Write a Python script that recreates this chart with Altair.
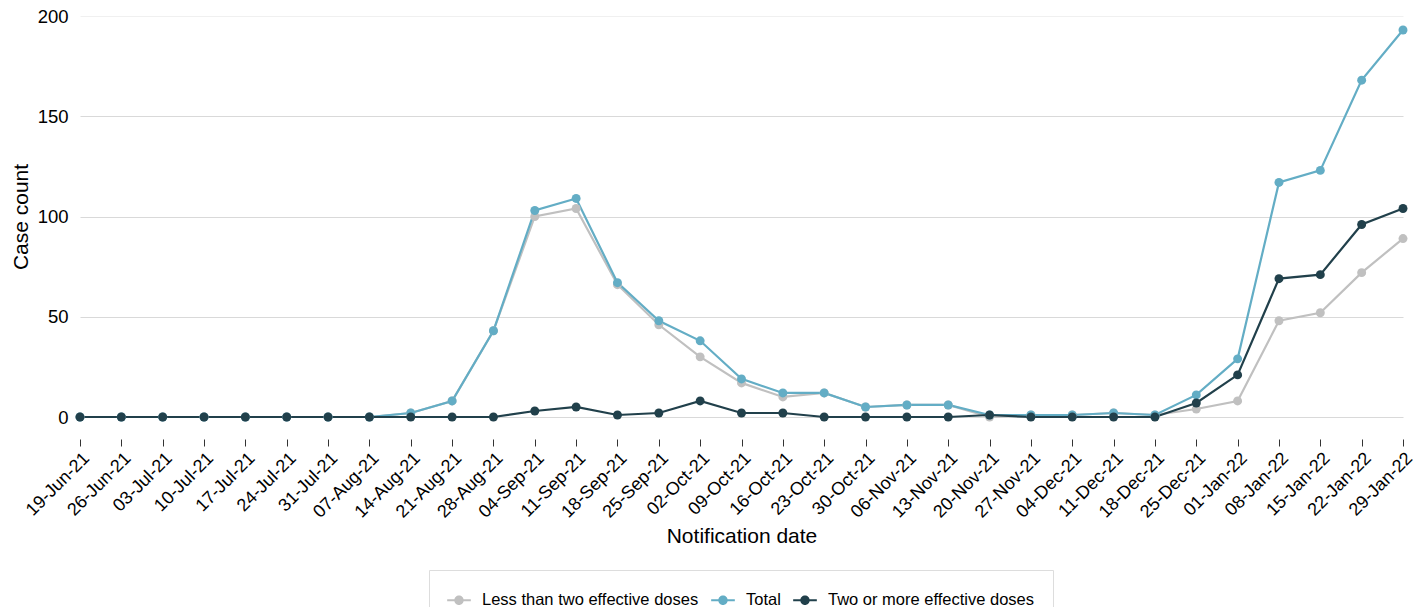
import altair as alt
import pandas as pd

dates = [
    "19-Jun-21", "26-Jun-21", "03-Jul-21", "10-Jul-21", "17-Jul-21", "24-Jul-21",
    "31-Jul-21", "07-Aug-21", "14-Aug-21", "21-Aug-21", "28-Aug-21", "04-Sep-21",
    "11-Sep-21", "18-Sep-21", "25-Sep-21", "02-Oct-21", "09-Oct-21", "16-Oct-21",
    "23-Oct-21", "30-Oct-21", "06-Nov-21", "13-Nov-21", "20-Nov-21", "27-Nov-21",
    "04-Dec-21", "11-Dec-21", "18-Dec-21", "25-Dec-21", "01-Jan-22", "08-Jan-22",
    "15-Jan-22", "22-Jan-22", "29-Jan-22",
]
less_than_two = [0, 0, 0, 0, 0, 0, 0, 0, 2, 8, 43, 100, 104, 66, 46, 30, 17, 10,
                 12, 5, 6, 6, 0, 1, 1, 2, 1, 4, 8, 48, 52, 72, 89]
two_or_more = [0, 0, 0, 0, 0, 0, 0, 0, 0, 0, 0, 3, 5, 1, 2, 8, 2, 2,
               0, 0, 0, 0, 1, 0, 0, 0, 0, 7, 21, 69, 71, 96, 104]
total = [0, 0, 0, 0, 0, 0, 0, 0, 2, 8, 43, 103, 109, 67, 48, 38, 19, 12,
         12, 5, 6, 6, 1, 1, 1, 2, 1, 11, 29, 117, 123, 168, 193]

series_names = ["Less than two effective doses", "Total", "Two or more effective doses"]
series_colors = ["#c0c0c0", "#63adc5", "#21404b"]
y_ticks = [0, 50, 100, 150, 200]

rows = []
for name, vals in zip(series_names, [less_than_two, total, two_or_more]):
    for d, v in zip(dates, vals):
        rows.append({"date": d, "series": name, "count": v})
df = pd.DataFrame(rows)
# separate field for the lines so their (hidden) legend is not merged with the points' one
df["line_series"] = df["series"]

font = "Liberation Sans"

# line segment + dot, drawn as filled shapes so the legend can use the fill colour
legend_symbol = ("M-1,-0.09H1V0.09H-1Z "
                 "M0.4,0A0.4,0.4 0 1,1 -0.4,0A0.4,0.4 0 1,1 0.4,0Z")

legend = alt.Legend(
    title=None,
    orient="none",
    direction="horizontal",
    legendX=349,
    legendY=554,
    labelFontSize=16.5,
    labelFont=font,
    labelColor="#000000",
    labelLimit=0,
    labelOffset=11,
    symbolType=legend_symbol,
    symbolSize=560,
    symbolStrokeWidth=0,
    columnPadding=12,
    padding=18,
    strokeColor="#dddddd",
)

x_enc = alt.X("date:O", sort=dates, title="Notification date",
              scale=alt.Scale(type="point", padding=0),
              axis=alt.Axis(labelAngle=-45, labelAlign="right", labelBaseline="top",
                            labelFontSize=18, labelFont=font, labelColor="#000000",
                            titleFontSize=21, titleFont=font, titleFontWeight="normal",
                            titleColor="#000000", titlePadding=4,
                            domain=False, ticks=True, tickColor="#333333", tickSize=7,
                            offset=22, labelPadding=3, grid=False))
y_enc = alt.Y("count:Q", title="Case count",
              scale=alt.Scale(domain=[0, 200], nice=False),
              axis=alt.Axis(values=y_ticks, labelFontSize=18.5, labelFont=font,
                            labelColor="#000000", titleFontSize=21, titleFont=font,
                            titleFontWeight="normal", titleColor="#000000", titlePadding=6,
                            domain=False, ticks=False, labelPadding=12,
                            gridColor=alt.condition(alt.datum.value == 200,
                                                    alt.value("#f0f0f0"),
                                                    alt.value("#d9d9d9")),
                            gridWidth=1))

base = alt.Chart(df)
lines = base.mark_line(strokeWidth=2.2).encode(
    x=x_enc, y=y_enc,
    stroke=alt.Stroke("line_series:N", scale=alt.Scale(range=series_colors), legend=None),
)
points = base.mark_point(size=80, filled=True, opacity=1).encode(
    x=x_enc, y=y_enc,
    color=alt.Color("series:N", scale=alt.Scale(domain=series_names, range=series_colors),
                    legend=legend),
)

chart = alt.layer(lines, points).properties(
    width=1323,
    height=401,
    autosize=alt.AutoSizeParams(type="none"),
    padding={"left": 72, "top": 8, "right": 14, "bottom": 190},
).configure_view(stroke=None)

chart.save("out.html", embed_options={"renderer": "svg", "actions": False})
